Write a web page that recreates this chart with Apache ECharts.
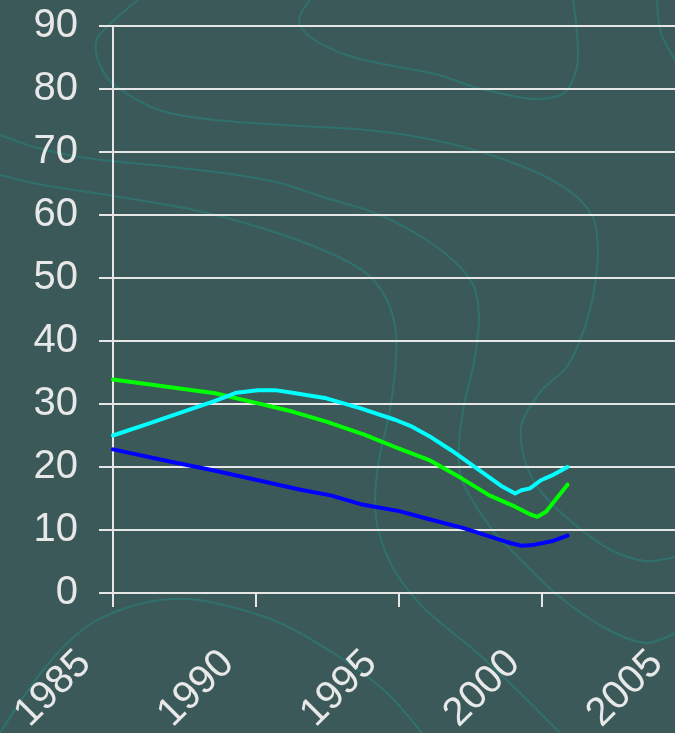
<!DOCTYPE html>
<html>
<head>
<meta charset="utf-8">
<script src="https://cdn.jsdelivr.net/npm/echarts@6/dist/echarts.min.js"></script>
<style>
  html, body { margin: 0; padding: 0; background: #3c5959; }
  #J_Chart { width: 675px; height: 733px; }
</style>
</head>
<body>
<div id="J_Chart"></div>
<script>
// values (year, percent)
const greenYears = [1985, 1988.57, 1990.07, 1991.27, 1992.46, 1993.81, 1995.01, 1996.06, 1997.19, 1998.16, 1999.06, 1999.58, 1999.84, 2000.14, 2000.89];
const greenValues = [33.9, 31.7, 30.1, 28.8, 27.2, 25.1, 22.9, 21.1, 18.2, 15.5, 13.7, 12.5, 12.1, 12.9, 17.2];

const cyanYears = [1985, 1986.32, 1987.67, 1988.57, 1989.32, 1990.07, 1990.67, 1991.27, 1992.46, 1993.66, 1994.86, 1995.46, 1996.06, 1996.81, 1997.56, 1998.61, 1999.06, 1999.28, 1999.58, 1999.96, 2000.41, 2000.89];
const cyanValues = [25.0, 27.0, 29.1, 30.5, 31.8, 32.2, 32.2, 31.8, 30.9, 29.3, 27.5, 26.4, 24.9, 22.7, 20.3, 16.9, 15.8, 16.3, 16.6, 17.9, 18.8, 20.0];

const blueYears = [1985, 1987.07, 1988.57, 1990.07, 1991.56, 1992.61, 1993.66, 1995.01, 1996.06, 1997.26, 1998.16, 1998.76, 1999.28, 1999.66, 2000.41, 2000.89];
const blueValues = [22.8, 20.8, 19.4, 17.9, 16.4, 15.5, 14.1, 13.0, 11.7, 10.3, 9.0, 8.1, 7.5, 7.6, 8.3, 9.1];

const yTicks = [0, 10, 20, 30, 40, 50, 60, 70, 80, 90];
const xTicks = [1985, 1990, 1995, 2000, 2005];

// faint contour lines of the slide background
const contours = [
  [[138,0],[98,37],[97,57],[112,83],[159,110],[215,120],[301,126],[366,130],[418,137],[474,150],[538,173],[577,197],[594,220],[598,253],[596,277],[590,310],[579,343],[566,368],[542,390],[523,420],[521,440],[527,467],[542,493],[573,523],[611,550],[646,561],[675,557]],
  [[0,135],[34,147],[86,158],[172,167],[237,175],[280,183],[323,197],[375,213],[422,237],[456,263],[474,287],[479,317],[476,350],[472,372],[465,400],[459,443],[461,477],[474,503],[495,533],[521,560],[555,593],[603,627],[646,643],[675,633]],
  [[0,175],[43,185],[108,195],[194,210],[258,227],[323,250],[366,273],[387,300],[396,333],[395,370],[390,410],[379,460],[375,500],[379,533],[396,573],[426,610],[474,650],[517,690],[560,733]],
  [[310,0],[299,20],[310,37],[353,57],[439,75],[474,87],[534,99],[564,93],[577,67],[577,33],[573,0]],
  [[657,0],[661,33],[675,60]],
  [[0,733],[43,670],[86,627],[129,607],[172,599],[215,603],[280,623],[344,660],[387,693],[422,733]]
];

const pairs = (xs, ys) => xs.map((x, i) => [x, ys[i]]);

const chartDom = document.getElementById('J_Chart');
const myChart = echarts.init(chartDom, null, { renderer: 'canvas' });

const labelColor = '#e8e8e8';
const lineColor = '#e6e6e6';

const option = {
  backgroundColor: '#3c5959',
  animation: false,
  graphic: contours.map((pts) => ({
    type: 'polyline',
    z: -10,
    silent: true,
    shape: { points: pts, smooth: 0.3 },
    style: { stroke: '#2f716d', lineWidth: 2, fill: null },
  })),
  grid: {
    left: 113,
    top: 26,
    right: -10,
    bottom: 140,
    containLabel: false,
    outerBoundsMode: 'none',
  },
  xAxis: {
    type: 'value',
    min: xTicks[0],
    max: xTicks[xTicks.length - 1],
    interval: 5,
    axisLine: { show: true, lineStyle: { color: lineColor, width: 2 } },
    axisTick: { show: true, length: 14, lineStyle: { color: lineColor, width: 2 } },
    splitLine: { show: false },
    axisLabel: {
      rotate: 45,
      margin: 36,
      padding: [0, 40, 0, 0],
      fontSize: 40,
      fontFamily: 'Liberation Sans, Arial, sans-serif',
      color: labelColor,
      showMinLabel: true,
      showMaxLabel: true,
      formatter: (v) => String(v),
    },
  },
  yAxis: {
    type: 'value',
    min: yTicks[0],
    max: yTicks[yTicks.length - 1],
    interval: 10,
    axisLine: { show: true, lineStyle: { color: lineColor, width: 2 } },
    axisTick: { show: true, length: 14, lineStyle: { color: lineColor, width: 2 } },
    splitLine: { show: true, lineStyle: { color: lineColor, width: 2 } },
    axisLabel: {
      margin: 35,
      fontSize: 40,
      fontFamily: 'Liberation Sans, Arial, sans-serif',
      color: labelColor,
    },
  },
  series: [
    {
      type: 'line',
      data: pairs(greenYears, greenValues),
      showSymbol: false,
      lineStyle: { color: '#00ff00', width: 4, join: 'round', cap: 'round' },
    },
    {
      type: 'line',
      data: pairs(cyanYears, cyanValues),
      showSymbol: false,
      lineStyle: { color: '#00ffff', width: 4, join: 'round', cap: 'round' },
    },
    {
      type: 'line',
      data: pairs(blueYears, blueValues),
      showSymbol: false,
      lineStyle: { color: '#0000ff', width: 4, join: 'round', cap: 'round' },
    },
  ],
};

myChart.setOption(option);
</script>
</body>
</html>
